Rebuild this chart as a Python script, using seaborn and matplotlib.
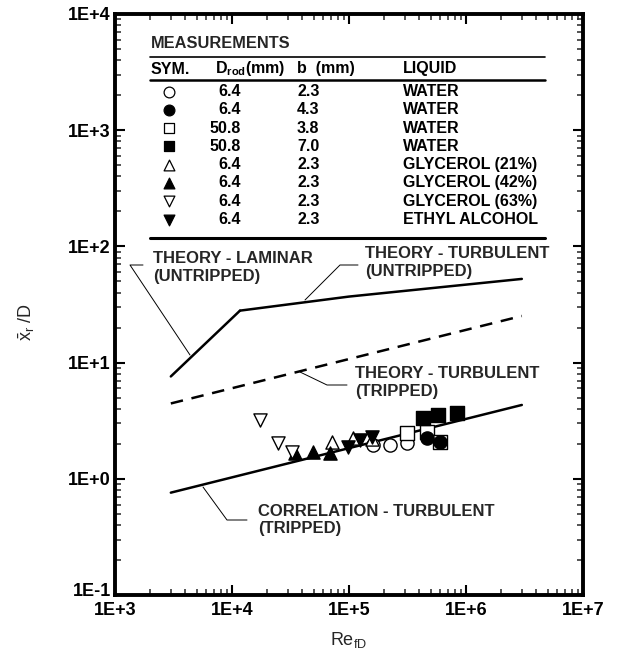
import numpy as np
import pandas as pd
import matplotlib
matplotlib.use("Agg")
import matplotlib.pyplot as plt
import matplotlib.transforms as mtransforms
import seaborn as sns
from matplotlib.ticker import FixedLocator, FixedFormatter, LogLocator, NullFormatter

sns.set_theme(style="ticks")
plt.rcParams["font.family"] = ["Liberation Sans", "DejaVu Sans"]
plt.rcParams["mathtext.fontset"] = "custom"
plt.rcParams["mathtext.rm"] = "Liberation Sans"
plt.rcParams["mathtext.it"] = "Liberation Sans"
plt.rcParams["mathtext.bf"] = "Liberation Sans:bold"

# ---------------- data ----------------
lam_re = [3.0e3, 1.17e4]
lam_x = [7.6, 28.0]
turb_un_re = [1.17e4, 1.0e5, 3.0e6]
turb_un_x = [28.0, 37.0, 52.5]
turb_tr_re = [3.0e3, 3.0e6]
turb_tr_x = [4.45, 25.2]
corr_re = [3.0e3, 3.0e6]
corr_x = [0.76, 4.32]

water_a_re = [1.61e5, 2.24e5, 3.11e5]          # open circle
water_a_x = [1.95, 1.95, 2.02]
water_b_re = [4.61e5, 6.0e5]                   # filled circle
water_b_x = [2.23, 2.09]
water_c_re = [3.11e5, 4.61e5, 6.0e5]           # open square
water_c_x = [2.46, 2.53, 2.09]
water_d_re = [4.32e5, 5.80e5, 8.33e5]          # filled square
water_d_x = [3.32, 3.54, 3.66]
gly21_re = [7.11e4, 1.09e5, 1.56e5]            # open up triangle
gly21_x = [2.09, 2.23, 2.20]
gly42_re = [3.45e4, 4.95e4, 6.88e4]            # filled up triangle
gly42_x = [1.66, 1.71, 1.68]
gly63_re = [1.73e4, 2.49e4, 3.24e4]            # open down triangle
gly63_x = [3.21, 2.02, 1.71]
eth_re = [9.87e4, 1.24e5, 1.56e5]              # filled down triangle
eth_x = [1.89, 2.16, 2.28]

sym_markers = ["o", "o", "s", "s", "^", "^", "v", "v"]
sym_filled = [False, True, False, True, False, True, False, True]
drod_vals = ["6.4", "6.4", "50.8", "50.8", "6.4", "6.4", "6.4", "6.4"]
b_vals = ["2.3", "4.3", "3.8", "7.0", "2.3", "2.3", "2.3", "2.3"]
liquid_vals = ["WATER", "WATER", "WATER", "WATER", "GLYCEROL (21%)",
               "GLYCEROL (42%)", "GLYCEROL (63%)", "ETHYL ALCOHOL"]

x_ticks = [1e3, 1e4, 1e5, 1e6, 1e7]
x_ticklabels = ["1E+3", "1E+4", "1E+5", "1E+6", "1E+7"]
y_ticks = [1e-1, 1e0, 1e1, 1e2, 1e3, 1e4]
y_ticklabels = ["1E-1", "1E+0", "1E+1", "1E+2", "1E+3", "1E+4"]

# ---------------- figure ----------------
W, H = 618, 652
fig = plt.figure(figsize=(W / 100, H / 100), dpi=100)
AX_L, AX_R, AX_T, AX_B = 115, 583, 14, 595
ax = fig.add_axes([AX_L / W, 1 - AX_B / H, (AX_R - AX_L) / W, (AX_B - AX_T) / H])
ax.set_xscale("log")
ax.set_yscale("log")
ax.set_xlim(1e3, 1e7)
ax.set_ylim(1e-1, 1e4)


def fx(px):
    return (px - AX_L) / (AX_R - AX_L)


def fy(py):
    return (AX_B - py) / (AX_B - AX_T)


# theory / correlation lines
line_kw = dict(color="black", linewidth=1.8, estimator=None, sort=False, ax=ax)
sns.lineplot(x=lam_re, y=lam_x, **line_kw)
sns.lineplot(x=turb_un_re, y=turb_un_x, **line_kw)
sns.lineplot(x=corr_re, y=corr_x, **line_kw)
sns.lineplot(x=turb_tr_re, y=turb_tr_x, color="black", linewidth=1.8,
             estimator=None, sort=False, ax=ax, dashes=False, linestyle=(0, (5, 3.5)))

# measurements
series = [
    (water_a_re, water_a_x, "o", False),
    (water_c_re, water_c_x, "s", False),
    (water_b_re, water_b_x, "o", True),
    (water_d_re, water_d_x, "s", True),
    (gly21_re, gly21_x, "^", False),
    (gly42_re, gly42_x, "^", True),
    (gly63_re, gly63_x, "v", False),
    (eth_re, eth_x, "v", True),
]
for xs, ys, m, filled in series:
    sns.scatterplot(x=xs, y=ys, marker=m, s=90,
                    color="black" if filled else "white",
                    edgecolor="black", linewidth=1.0, ax=ax, zorder=3)

# ---------------- axes styling ----------------
for sp in ax.spines.values():
    sp.set_linewidth(2.8)
    sp.set_color("black")
    sp.set_visible(True)
ax.xaxis.set_major_locator(FixedLocator(x_ticks))
ax.xaxis.set_major_formatter(FixedFormatter(x_ticklabels))
ax.yaxis.set_major_locator(FixedLocator(y_ticks))
ax.yaxis.set_major_formatter(FixedFormatter(y_ticklabels))
ax.xaxis.set_minor_locator(LogLocator(base=10, subs=np.arange(2, 10), numticks=20))
ax.yaxis.set_minor_locator(LogLocator(base=10, subs=np.arange(2, 10), numticks=20))
ax.xaxis.set_minor_formatter(NullFormatter())
ax.yaxis.set_minor_formatter(NullFormatter())
ax.tick_params(which="major", direction="in", length=7, width=1.5, top=True,
               right=True, labelsize=13, pad=5, colors="black")
ax.tick_params(which="minor", direction="in", length=4, width=1.1, top=True, right=True)
ax.tick_params(axis="y", pad=3)
for lab in ax.get_xticklabels() + ax.get_yticklabels():
    lab.set_fontweight("bold")
# lift the lowest y label slightly so it clears the x labels
ylabs = ax.get_yticklabels()
ylabs[0].set_transform(ylabs[0].get_transform() +
                       mtransforms.ScaledTranslation(0, 6 / 100, fig.dpi_scale_trans))

ax.set_xlabel(r"Re$_{\mathrm{fD}}$", fontsize=13)
ax.xaxis.set_label_coords(0.5, fy(630))
ax.set_ylabel(r"$\bar{\mathrm{x}}_{\mathrm{r}}$ /D", fontsize=13)
ax.yaxis.set_label_coords(fx(37), fy(322))
ax.grid(False)
ax.set_facecolor("white")

# ---------------- measurement table ----------------
tr = ax.transAxes
tkw = dict(transform=tr, fontsize=11.5, fontweight="bold", va="center", color="black")
ax.text(fx(151), fy(44), "MEASUREMENTS", fontsize=11.8, fontweight="bold",
        va="center", transform=tr)
ax.plot([fx(150), fx(545)], [fy(57), fy(57)], color="black", lw=1.2, transform=tr)
ax.text(fx(151), fy(69), "SYM.", ha="left", **tkw)
ax.text(fx(215), fy(69), r"D$_{\mathbf{rod}}$(mm)", ha="left", **tkw)
ax.text(fx(297), fy(69), "b  (mm)", ha="left", **tkw)
ax.text(fx(403), fy(69), "LIQUID", ha="left", **tkw)
ax.plot([fx(150), fx(545)], [fy(80), fy(80)], color="black", lw=1.8, transform=tr)
for i in range(len(liquid_vals)):
    ry = 91.5 + 18.3 * i
    ax.scatter([fx(169)], [fy(ry)], marker=sym_markers[i], s=60,
               facecolor="black" if sym_filled[i] else "white",
               edgecolor="black", linewidth=0.9, transform=tr, clip_on=False, zorder=4)
    ax.text(fx(241), fy(ry), drod_vals[i], ha="right", **tkw)
    ax.text(fx(297), fy(ry), b_vals[i], ha="left", **tkw)
    ax.text(fx(403), fy(ry), liquid_vals[i], ha="left", **tkw)
ax.plot([fx(150), fx(545)], [fy(238), fy(238)], color="black", lw=2.2, transform=tr)

# ---------------- annotations ----------------
akw = dict(transform=tr, fontsize=12, fontweight="bold", ha="left", va="center",
           linespacing=1.25)
lkw = dict(color="black", lw=0.7, transform=tr)

ax.text(fx(153), fy(267.5), "THEORY - LAMINAR\n(UNTRIPPED)", **akw)
ax.plot([fx(143), fx(130), fx(190)], [fy(265), fy(265), fy(355)], **lkw)

ax.text(fx(365), fy(263), "THEORY - TURBULENT\n(UNTRIPPED)", **akw)
ax.plot([fx(358), fx(340), fx(305)], [fy(265), fy(265), fy(300)], **lkw)

ax.text(fx(355), fy(382.5), "THEORY - TURBULENT\n(TRIPPED)", **akw)
ax.plot([fx(347), fx(327), fx(300)], [fy(385), fy(385), fy(372)], **lkw)

ax.text(fx(258), fy(520), "CORRELATION - TURBULENT\n(TRIPPED)", **akw)
ax.plot([fx(247), fx(227), fx(203)], [fy(520), fy(520), fy(487)], **lkw)

fig.savefig("out.png", dpi=100, facecolor="white")
